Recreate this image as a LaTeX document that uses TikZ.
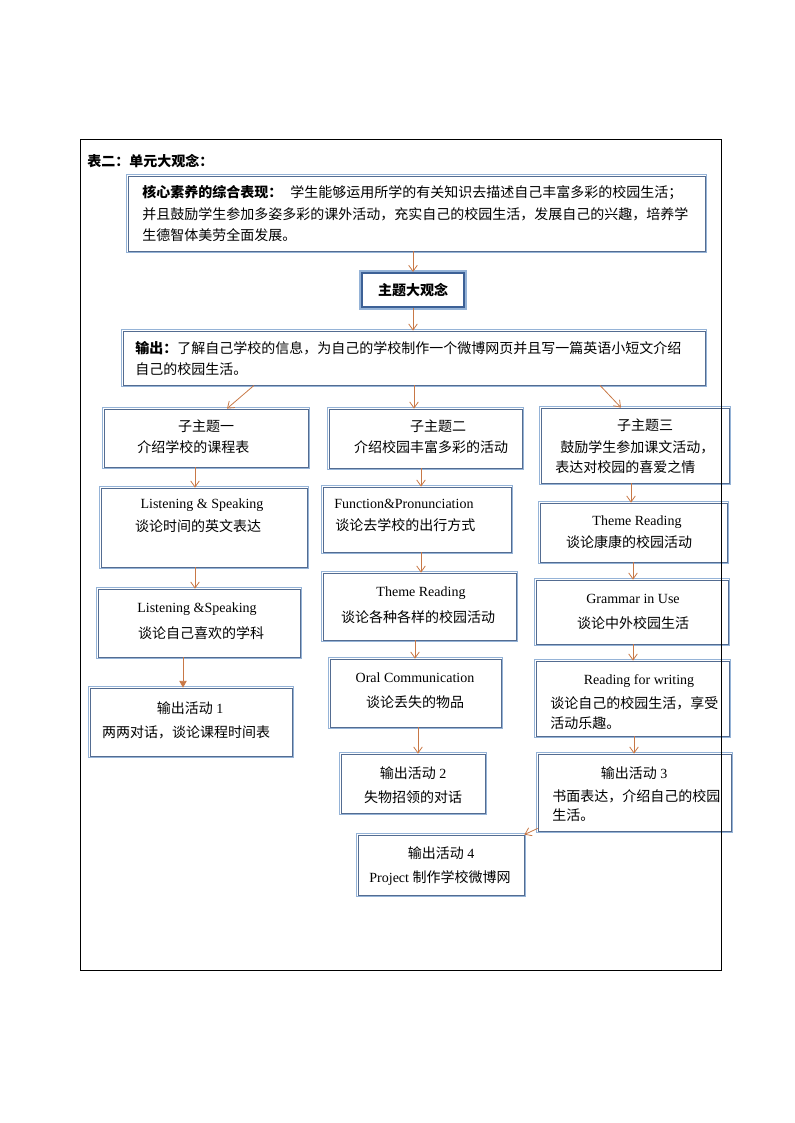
\documentclass[tikz,border=0pt]{standalone}
\usepackage{fontspec}
\setmainfont{Liberation Serif}
\newfontfamily\cjk{Noto Sans CJK SC}
\usetikzlibrary{arrows.meta,fit}
\definecolor{boxlight}{RGB}{149,179,215}
\definecolor{boxdark}{RGB}{84,108,145}
\definecolor{themedark}{RGB}{61,97,150}
\definecolor{arrowc}{RGB}{200,120,70}
\tikzset{
  box/.style={fill=white, draw=boxdark, line width=0.6pt, inner sep=0pt,
    preaction={draw=boxlight, line width=3.6pt},
    preaction={draw=white, line width=1.2pt}},
  themebox/.style={fill=white, draw=themedark, line width=1.6pt, inner sep=0pt,
    preaction={draw=boxlight, line width=3.8pt}},
  ltext/.style={inner sep=0pt, anchor=west},
  ctext/.style={inner sep=0pt},
  arr/.style={draw=arrowc, line width=0.6pt, -{Straight Barb[length=4.5pt,width=6.5pt]}},
  arrf/.style={draw=arrowc, line width=0.6pt, -{Triangle[length=5pt,width=5.5pt]}}
}
\begin{document}
\begin{tikzpicture}[x=0.75pt,y=0.75pt,yscale=-1,xscale=1,font=\fontsize{10.5pt}{15.75pt}\selectfont]
\useasboundingbox (0,0) rectangle (794,1123);
%Shape: Rectangle
\node [box, fit={(128,176) (705,251)}] (core) {};
%Shape: Rectangle
\node [themebox, fit={(362,273) (464,307)}] (theme) {};
%Shape: Rectangle
\node [box, fit={(123,331) (705,385)}] (outp) {};
%Shape: Rectangle
\node [box, fit={(104,409) (308,467)}] (st1) {};
%Shape: Rectangle
\node [box, fit={(101,488) (307,567)}] (ls1) {};
%Shape: Rectangle
\node [box, fit={(98,589) (300,657)}] (ls2) {};
%Shape: Rectangle
\node [box, fit={(90,688) (292,756)}] (out1) {};
%Shape: Rectangle
\node [box, fit={(329,409) (522,468)}] (st2) {};
%Shape: Rectangle
\node [box, fit={(323,487) (511,552)}] (fp) {};
%Shape: Rectangle
\node [box, fit={(323,573) (516,640)}] (tr2) {};
%Shape: Rectangle
\node [box, fit={(330,659) (501,727)}] (oral) {};
%Shape: Rectangle
\node [box, fit={(341,754) (485,813)}] (out2) {};
%Shape: Rectangle
\node [box, fit={(358,835) (524,895)}] (out4) {};
%Shape: Rectangle
\node [box, fit={(541,408) (729,483)}] (st3) {};
%Shape: Rectangle
\node [box, fit={(540,503) (727,562)}] (tr3) {};
%Shape: Rectangle
\node [box, fit={(536,580) (728,644)}] (gram) {};
%Shape: Rectangle
\node [box, fit={(536,661) (729,736)}] (rfw) {};
%Shape: Rectangle
\node [box, fit={(538,754) (731,831)}] (out3) {};

% Text Node
\draw (87,161) node [ltext] (title) {\cjk\bfseries 表二：单元大观念：};
% Text Node
\draw (142,193) node [ltext] (corea) {\cjk{\bfseries 核心素养的综合表现：}\hspace{6pt}学生能够运用所学的有关知识去描述自己丰富多彩的校园生活；};
% Text Node
\draw (142,214) node [ltext] (coreb) {\cjk 并且鼓励学生参加多姿多彩的课外活动，充实自己的校园生活，发展自己的兴趣，培养学};
% Text Node
\draw (142,235) node [ltext] (corec) {\cjk 生德智体美劳全面发展。};
% Text Node
\draw (413,290) node [ctext] (themet) {\cjk\bfseries 主题大观念};
% Text Node
\draw (135,348) node [ltext] (outpa) {\cjk{\bfseries 输出：}了解自己学校的信息，为自己的学校制作一个微博网页并且写一篇英语小短文介绍};
% Text Node
\draw (135,369) node [ltext] (outpb) {\cjk 自己的校园生活。};
% Text Node
\draw (206,426) node [ctext] (st1a) {\cjk 子主题一};
% Text Node
\draw (137,447) node [ltext] (st1b) {\cjk 介绍学校的课程表};
% Text Node
\draw (202,505) node [ctext] (ls1a) {Listening \& Speaking};
% Text Node
\draw (198,526) node [ctext] (ls1b) {\cjk 谈论时间的英文表达};
% Text Node
\draw (197,609) node [ctext] (ls2a) {Listening \&Speaking};
% Text Node
\draw (201,633) node [ctext] (ls2b) {\cjk 谈论自己喜欢的学科};
% Text Node
\draw (190,708) node [ctext] (out1a) {{\cjk 输出活动} 1};
% Text Node
\draw (186,732) node [ctext] (out1b) {\cjk 两两对话，谈论课程时间表};
% Text Node
\draw (438,426) node [ctext] (st2a) {\cjk 子主题二};
% Text Node
\draw (431,447) node [ctext] (st2b) {\cjk 介绍校园丰富多彩的活动};
% Text Node
\draw (334,504) node [ltext] (fpa) {Function\&Pronunciation};
% Text Node
\draw (335,525) node [ltext] (fpb) {\cjk 谈论去学校的出行方式};
% Text Node
\draw (421,593) node [ctext] (tr2a) {Theme Reading};
% Text Node
\draw (418,617) node [ctext] (tr2b) {\cjk 谈论各种各样的校园活动};
% Text Node
\draw (415,678) node [ctext] (orala) {Oral Communication};
% Text Node
\draw (415,702) node [ctext] (oralb) {\cjk 谈论丢失的物品};
% Text Node
\draw (413,773) node [ctext] (out2a) {{\cjk 输出活动} 2};
% Text Node
\draw (413,797) node [ctext] (out2b) {\cjk 失物招领的对话};
% Text Node
\draw (441,853) node [ctext] (out4a) {{\cjk 输出活动} 4};
% Text Node
\draw (440,878) node [ctext] (out4b) {Project {\cjk 制作学校微博网}};
% Text Node
\draw (645,425) node [ctext] (st3a) {\cjk 子主题三};
% Text Node
\draw (560,447) node [ltext] (st3b) {\cjk 鼓励学生参加课文活动，};
% Text Node
\draw (555,467) node [ltext] (st3c) {\cjk 表达对校园的喜爱之情};
% Text Node
\draw (637,522) node [ctext] (tr3a) {Theme Reading};
% Text Node
\draw (629,542) node [ctext] (tr3b) {\cjk 谈论康康的校园活动};
% Text Node
\draw (633,599) node [ctext] (grama) {Grammar in Use};
% Text Node
\draw (633,623) node [ctext] (gramb) {\cjk 谈论中外校园生活};
% Text Node
\draw (639,681) node [ctext] (rfwa) {Reading for writing};
% Text Node
\draw (550,703) node [ltext] (rfwb) {\cjk 谈论自己的校园生活，享受};
% Text Node
\draw (550,723) node [ltext] (rfwc) {\cjk 活动乐趣。};
% Text Node
\draw (634,773) node [ctext] (out3a) {{\cjk 输出活动} 3};
% Text Node
\draw (552,796) node [ltext] (out3b) {\cjk 书面表达，介绍自己的校园};
% Text Node
\draw (552,815) node [ltext] (out3c) {\cjk 生活。};

%Straight Lines
\draw [arr] (core.south -| theme.north) -- (theme.north);
\draw [arr] (theme.south) -- (outp.north -| theme.south);
\draw [arr] (outp.south -| 254,0) -- (st1.north -| 227,0);
\draw [arr] (outp.south -| 414,0) -- (st2.north -| 414,0);
\draw [arr] (outp.south -| 600,0) -- (st3.north -| 621,0);
%Straight Lines
\draw [arr] (st1.south -| 195,0) -- (ls1.north -| 195,0);
\draw [arr] (ls1.south -| 195,0) -- (ls2.north -| 195,0);
\draw [arrf] (ls2.south -| 183,0) -- (out1.north -| 183,0);
%Straight Lines
\draw [arr] (st2.south -| 421,0) -- (fp.north -| 421,0);
\draw [arr] (fp.south -| 421,0) -- (tr2.north -| 421,0);
\draw [arr] (tr2.south -| 415,0) -- (oral.north -| 415,0);
\draw [arr] (oral.south -| 418,0) -- (out2.north -| 418,0);
%Straight Lines
\draw [arr] (st3.south -| 631,0) -- (tr3.north -| 631,0);
\draw [arr] (tr3.south -| 633,0) -- (gram.north -| 633,0);
\draw [arr] (gram.south -| 633,0) -- (rfw.north -| 633,0);
\draw [arr] (rfw.south -| 634,0) -- (out3.north -| 634,0);
\draw [arr] (out3.south west) ++(0,-3) -- (out4.north east);

%Shape: Rectangle
\draw [line width=0.75pt] (80,140) rectangle (721,970);
\end{tikzpicture}
\end{document}
